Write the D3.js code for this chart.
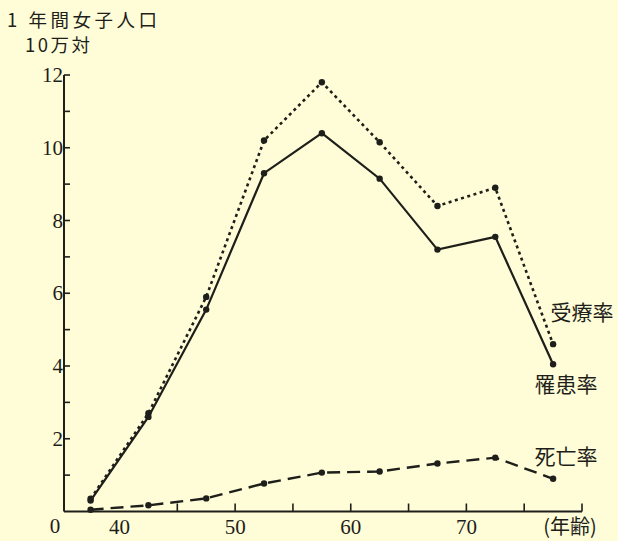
<!DOCTYPE html>
<html><head><meta charset="utf-8">
<script src="https://cdn.jsdelivr.net/npm/d3@7"></script>
<style>
html,body{margin:0;padding:0;background:#fefdd8;}
svg{display:block;}
</style></head>
<body>
<svg id="c" width="618" height="541"></svg>
<script>
const ages = [37.5, 42.5, 47.5, 52.5, 57.5, 62.5, 67.5, 72.5, 77.5];
const jyuryo = [0.35, 2.7, 5.9, 10.2, 11.8, 10.15, 8.4, 8.9, 4.6];   // 受療率
const rikan  = [0.3, 2.6, 5.55, 9.3, 10.4, 9.15, 7.2, 7.55, 4.05];  // 罹患率
const shibou = [0.05, 0.17, 0.36, 0.77, 1.07, 1.1, 1.32, 1.48, 0.9]; // 死亡率
const xTickLabels = [40, 50, 60, 70];
const xTickMarks = [45, 50, 55, 60, 65, 70, 75, 80];
const yTickLabels = [2, 4, 6, 8, 10, 12];
const yTickMarks = [1, 2, 3, 4, 5, 6, 7, 8, 9, 10, 11, 12];
const seriesNames = ["受療率", "罹患率", "死亡率"];
const titleLines = ["1 年間女子人口", "10万対"];
const xUnit = "(年齢)";

const svg = d3.select("#c");
const ink = "#1e1e1a";
const numFont = "'Liberation Serif', 'DejaVu Serif', serif";
const jpFont = "'Noto Sans CJK JP', sans-serif";

const x = d3.scaleLinear().domain([35.2, 80]).range([64, 582]);
const y = d3.scaleLinear().domain([0, 12]).range([511.5, 75]);

// axes
const g = svg.append("g");
g.append("line").attr("x1", x(35.2)).attr("x2", x(35.2)).attr("y1", y(0)).attr("y2", y(12))
  .attr("stroke", ink).attr("stroke-width", 2);
g.append("line").attr("x1", x(35.2)).attr("x2", x(80)).attr("y1", y(0)).attr("y2", y(0))
  .attr("stroke", ink).attr("stroke-width", 2);

// y ticks (inward)
g.selectAll(".yt").data(yTickMarks).enter().append("line")
  .attr("x1", x(35.2)).attr("x2", x(35.2) + 6)
  .attr("y1", d => y(d)).attr("y2", d => y(d))
  .attr("stroke", ink).attr("stroke-width", 1.6);
g.selectAll(".yl").data(yTickLabels).enter().append("text")
  .attr("x", x(35.2) - 1).attr("y", d => y(d) + 7)
  .attr("text-anchor", "end").attr("font-family", numFont).attr("font-size", 21)
  .attr("fill", ink).text(d => d);
g.append("text").attr("x", 55).attr("y", y(0) + 21)
  .attr("text-anchor", "middle").attr("font-family", numFont).attr("font-size", 21)
  .attr("fill", ink).text("0");

// x ticks (inward)
g.selectAll(".xt").data(xTickMarks).enter().append("line")
  .attr("x1", d => x(d)).attr("x2", d => x(d))
  .attr("y1", y(0)).attr("y2", y(0) - 8)
  .attr("stroke", ink).attr("stroke-width", 1.6);
g.selectAll(".xl").data(xTickLabels).enter().append("text")
  .attr("x", d => x(d)).attr("y", y(0) + 22)
  .attr("text-anchor", "middle").attr("font-family", numFont).attr("font-size", 21)
  .attr("fill", ink).text(d => d);
g.append("text").attr("x", 570).attr("y", y(0) + 22)
  .attr("text-anchor", "middle").attr("font-family", jpFont).attr("font-size", 20)
  .attr("fill", ink).text(xUnit);

// title
g.append("text").attr("x", 7).attr("y", 27).attr("font-family", jpFont).attr("font-size", 18.5)
  .attr("letter-spacing", 3.5).attr("fill", ink).text(titleLines[0]);
g.append("text").attr("x", 25).attr("y", 52).attr("font-family", jpFont).attr("font-size", 18.5)
  .attr("letter-spacing", 2.5).attr("fill", ink).text(titleLines[1]);

// series
const line = d3.line().x(d => x(d[0])).y(d => y(d[1]));
const series = [
  {name: seriesNames[0], vals: jyuryo, dash: "3,3.5", w: 2.6, lx: 582, ly: 320},
  {name: seriesNames[1], vals: rikan, dash: null, w: 2.2, lx: 566, ly: 392},
  {name: seriesNames[2], vals: shibou, dash: "13,7", w: 2.4, lx: 566, ly: 464}
];
series.forEach(s => {
  const pts = ages.map((a, i) => [a, s.vals[i]]);
  g.append("path").datum(pts).attr("d", line).attr("fill", "none")
    .attr("stroke", ink).attr("stroke-width", s.w)
    .attr("stroke-dasharray", s.dash);
  g.selectAll(null).data(pts).enter().append("circle")
    .attr("cx", d => x(d[0])).attr("cy", d => y(d[1])).attr("r", 3.2).attr("fill", ink);
  g.append("text").attr("x", s.lx).attr("y", s.ly).attr("text-anchor", "middle")
    .attr("font-family", jpFont).attr("font-size", 21).attr("fill", ink).text(s.name);
});
</script>
</body></html>
